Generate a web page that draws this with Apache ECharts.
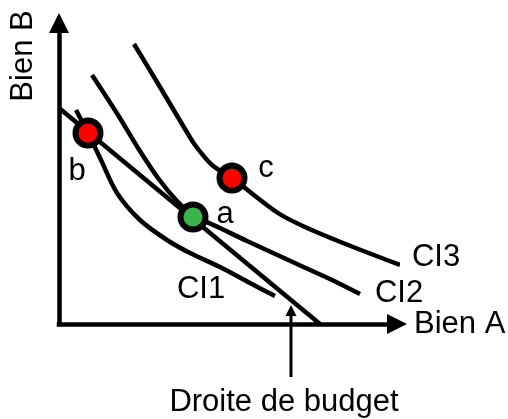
<!DOCTYPE html>
<html>
<head>
<meta charset="utf-8">
<script src="https://cdn.jsdelivr.net/npm/echarts@6/dist/echarts.min.js"></script>
<style>
    html, body { margin: 0; padding: 0; background: #fff; }
    #chart { width: 508px; height: 419px; }
</style>
</head>
<body>
<div id="chart"></div>
<script>
// courbes d'indifférence : [bien A, bien B]
const ci1 = [[17, 214], [29, 191], [42, 164], [58, 131], [81, 104], [108, 84], [131, 71], [161, 57], [191, 41], [216, 28]];
const ci2 = [[33, 249], [59, 209], [79, 176], [99, 146], [118, 123], [134, 109], [161, 96], [188, 83], [238, 60], [271, 45], [301, 30]];
const ci3 = [[75, 280], [101, 237], [126, 195], [136, 179], [153, 159], [173, 146], [219, 111], [246, 97], [284, 81], [341, 59]];
const curveNames = ['CI1', 'CI2', 'CI3'];
// droite de budget
const budget = [[0, 216], [261, 0]];
// paniers
const pointNames = ['a', 'b', 'c'];
const points = [[134, 107], [29, 191], [173, 146]];

const font = '"Liberation Sans", Arial, sans-serif';
const fontSize = 31;

let myChart = echarts.init(document.getElementById('chart'), null, {renderer: 'canvas'});

//样式
let curveLine = {color: '#000', width: 4.5};
let curveLabelOffsets = [[-74, -7], [39, -1], [36, -8]];
let pointColors = ['#3ab54a', '#ff0000', '#ff0000'];
let pointLabelOffsets = [[32, -3], [-11, 38], [34, -10]];

let curveSeries = [ci1, ci2, ci3].map(function (c, i) {
    return {
        name: curveNames[i],
        type: 'line',
        data: c,
        smooth: 0.3,
        showSymbol: false,
        lineStyle: curveLine,
        clip: false,
        z: 2,
        silent: true
    };
});

let option = {
    animation: false,
    grid: {
        left: 59,
        right: 111,
        top: 23,
        bottom: 95,
        outerBoundsMode: 'none'
    },
    xAxis: {
        type: 'value',
        min: 0,
        max: 338,
        name: 'Bien A',
        nameLocation: 'end',
        nameGap: 17,
        nameTextStyle: {color: '#000', fontSize: fontSize, fontFamily: font},
        axisLine: {
            symbol: ['none', 'triangle'],
            symbolSize: [20, 20],
            lineStyle: {color: '#000', width: 4.5, cap: 'square'}
        },
        axisTick: {show: false},
        axisLabel: {show: false},
        splitLine: {show: false}
    },
    yAxis: {
        type: 'value',
        min: 0,
        max: 301,
        axisLine: {
            symbol: ['none', 'triangle'],
            symbolSize: [20, 20],
            lineStyle: {color: '#000', width: 4.5, cap: 'square'}
        },
        axisTick: {show: false},
        axisLabel: {show: false},
        splitLine: {show: false}
    },
    graphic: [
        {
            type: 'text',
            x: 23,
            y: 56,
            rotation: Math.PI / 2,
            style: {text: 'Bien B', fill: '#000', font: fontSize + 'px ' + font, align: 'center', verticalAlign: 'middle'}
        },
        {
            type: 'text',
            x: 284,
            y: 402,
            style: {text: 'Droite de budget', fill: '#000', font: fontSize + 'px ' + font, align: 'center', verticalAlign: 'middle'}
        },
        {
            type: 'line',
            shape: {x1: 291, y1: 377, x2: 291, y2: 312},
            style: {stroke: '#000', lineWidth: 3}
        },
        {
            type: 'polygon',
            shape: {points: [[291, 305], [285.5, 316], [296.5, 316]]},
            style: {fill: '#000'}
        }
    ],
    series: curveSeries.concat([
        {
            name: 'budget',
            type: 'line',
            data: budget,
            showSymbol: false,
            lineStyle: curveLine,
            z: 2,
            silent: true
        },
        {
            // étiquettes des courbes
            type: 'scatter',
            symbolSize: 0,
            silent: true,
            clip: false,
            z: 4,
            itemStyle: {opacity: 1},
            data: [ci1, ci2, ci3].map(function (c, i) {
                return {
                    value: c[c.length - 1],
                    label: {
                        show: true,
                        formatter: curveNames[i],
                        position: 'inside',
                        offset: curveLabelOffsets[i],
                        color: '#000',
                        fontSize: fontSize,
                        fontFamily: font
                    }
                };
            })
        },
        {
            type: 'scatter',
            symbolSize: 25,
            silent: true,
            z: 5,
            data: points.map(function (p, i) {
                return {
                    value: p,
                    itemStyle: {color: pointColors[i], borderColor: '#000', borderWidth: 6, opacity: 1},
                    label: {
                        show: true,
                        formatter: pointNames[i],
                        position: 'inside',
                        offset: pointLabelOffsets[i],
                        color: '#000',
                        fontSize: fontSize,
                        fontFamily: font
                    }
                };
            })
        }
    ])
};

myChart.setOption(option);
</script>
</body>
</html>
